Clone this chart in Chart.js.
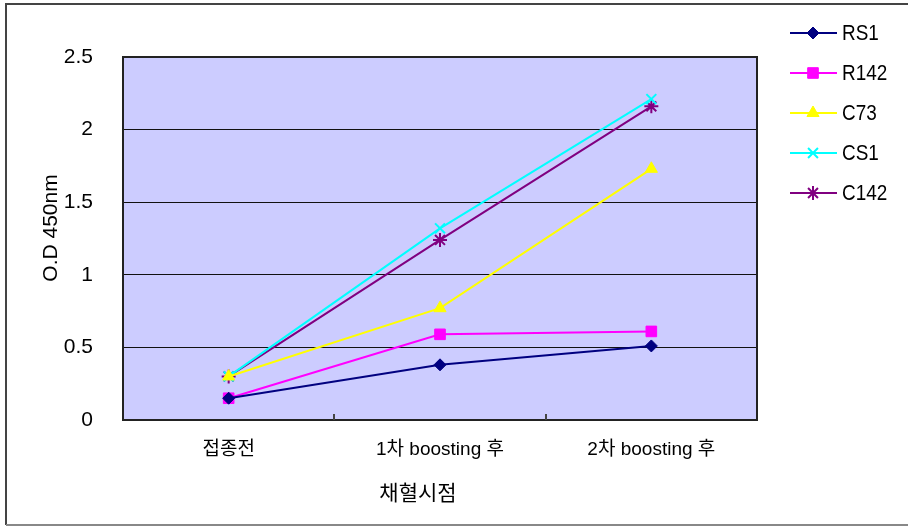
<!DOCTYPE html>
<html>
<head>
<meta charset="utf-8">
<script src="https://cdn.jsdelivr.net/npm/chart.js@4.4.0/dist/chart.umd.min.js"></script>
<style>
  html, body { margin: 0; padding: 0; background: #fff; }
  canvas { display: block; }
</style>
</head>
<body>
<canvas id="odChart" width="908" height="526"></canvas>
<script>
// 채혈 시점별 O.D 값
const timepoints = ['접종전', '1차 boosting 후', '2차 boosting 후'];
const rs1  = [0.15, 0.38, 0.51];
const r142 = [0.15, 0.59, 0.61];
const c73  = [0.30, 0.77, 1.73];
const cs1  = [0.30, 1.32, 2.21];
const c142 = [0.30, 1.24, 2.16];
const yMax = 2.5;
const yStep = 0.5;

const fontFamily = '"Liberation Sans", "Noto Sans CJK KR", sans-serif';

function series(label, data, color, style, radius, bw) {
  return {
    label: label,
    data: data,
    borderColor: color,
    backgroundColor: color,
    borderWidth: 2,
    pointStyle: style,
    pointRadius: radius,
    pointHoverRadius: radius,
    pointBorderWidth: bw,
    pointBorderColor: color,
    pointBackgroundColor: color,
    tension: 0
  };
}

const chartDeco = {
  id: 'chartDeco',
  beforeDraw(chart) {
    const { ctx, chartArea: a } = chart;
    ctx.save();
    ctx.fillStyle = '#fff';
    ctx.fillRect(0, 0, chart.width, chart.height);
    ctx.fillStyle = '#ccccff';
    ctx.fillRect(a.left, a.top, a.right - a.left, a.bottom - a.top);
    ctx.restore();
  },
  afterDatasetsDraw(chart) {
    const { ctx, chartArea: a } = chart;
    const x = chart.scales.x;
    ctx.save();
    // plot frame
    ctx.strokeStyle = '#222';
    ctx.lineWidth = 2;
    ctx.strokeRect(a.left, a.top, a.right - a.left, a.bottom - a.top);
    // small inward ticks between categories
    ctx.strokeStyle = '#444';
    for (let i = 1; i < timepoints.length; i++) {
      const px = Math.round((x.getPixelForTick(i - 1) + x.getPixelForTick(i)) / 2);
      ctx.beginPath();
      ctx.moveTo(px, a.bottom);
      ctx.lineTo(px, a.bottom - 6);
      ctx.stroke();
    }
    ctx.restore();
  },
  afterDraw(chart) {
    const { ctx } = chart;
    ctx.save();
    // outer frame
    ctx.strokeStyle = '#444';
    ctx.lineWidth = 2;
    ctx.beginPath();
    ctx.moveTo(6, chart.height - 1);
    ctx.lineTo(6, 4);
    ctx.lineTo(chart.width, 4);
    ctx.stroke();
    ctx.strokeStyle = '#888';
    ctx.beginPath();
    ctx.moveTo(6, chart.height - 1);
    ctx.lineTo(chart.width, chart.height - 1);
    ctx.stroke();

    // axis titles
    ctx.fillStyle = '#000';
    ctx.textAlign = 'center';
    ctx.textBaseline = 'middle';
    ctx.font = '21px ' + fontFamily;
    ctx.fillText('채혈시점', 418, 494);
    ctx.translate(51, 228);
    ctx.rotate(-Math.PI / 2);
    ctx.fillText('O.D 450nm', 0, 0);
    ctx.restore();

    // legend: line + marker + name
    ctx.save();
    chart.data.datasets.forEach((ds, i) => {
      const y = 33 + i * 40;
      ctx.strokeStyle = ds.borderColor;
      ctx.lineWidth = 2;
      ctx.beginPath();
      ctx.moveTo(790, y);
      ctx.lineTo(837, y);
      ctx.stroke();
      ctx.fillStyle = ds.pointBackgroundColor;
      ctx.lineWidth = ds.pointBorderWidth;
      Chart.helpers.drawPoint(ctx, {
        pointStyle: ds.pointStyle,
        radius: ds.pointRadius,
        borderWidth: ds.pointBorderWidth,
        rotation: 0
      }, 813, y);
      // condensed label text
      ctx.save();
      ctx.translate(842, y + 1);
      ctx.scale(0.86, 1);
      ctx.fillStyle = '#000';
      ctx.font = '22px ' + fontFamily;
      ctx.textAlign = 'left';
      ctx.textBaseline = 'middle';
      ctx.fillText(ds.label, 0, 0);
      ctx.restore();
    });
    ctx.restore();
  }
};

new Chart(document.getElementById('odChart'), {
  type: 'line',
  data: {
    labels: timepoints,
    datasets: [
      series('RS1', rs1, '#000080', 'rectRot', 6, 1),
      series('R142', r142, '#ff00ff', 'rect', 7.5, 1),
      series('C73', c73, '#ffff00', 'triangle', 7, 1),
      series('CS1', cs1, '#00ffff', 'crossRot', 7, 2),
      series('C142', c142, '#800080', 'star', 7, 2)
    ]
  },
  options: {
    responsive: false,
    animation: false,
    devicePixelRatio: 1,
    layout: { padding: { left: 0, top: 57, right: 151, bottom: 0 } },
    plugins: {
      legend: { display: false },
      tooltip: { enabled: false }
    },
    scales: {
      x: {
        type: 'category',
        offset: true,
        grid: { display: false, drawTicks: false },
        border: { display: false },
        ticks: { color: '#000', padding: 18, font: { family: fontFamily, size: 19 } },
        afterFit(scale) { scale.height = 106; }
      },
      y: {
        min: 0,
        max: yMax,
        ticks: {
          stepSize: yStep,
          color: '#000',
          padding: 30,
          font: { family: fontFamily, size: 21 },
          callback: v => String(v)
        },
        grid: { color: '#111', lineWidth: 1, drawTicks: false },
        border: { display: false },
        afterFit(scale) { scale.width = 123; }
      }
    }
  },
  plugins: [chartDeco]
});
</script>
</body>
</html>
